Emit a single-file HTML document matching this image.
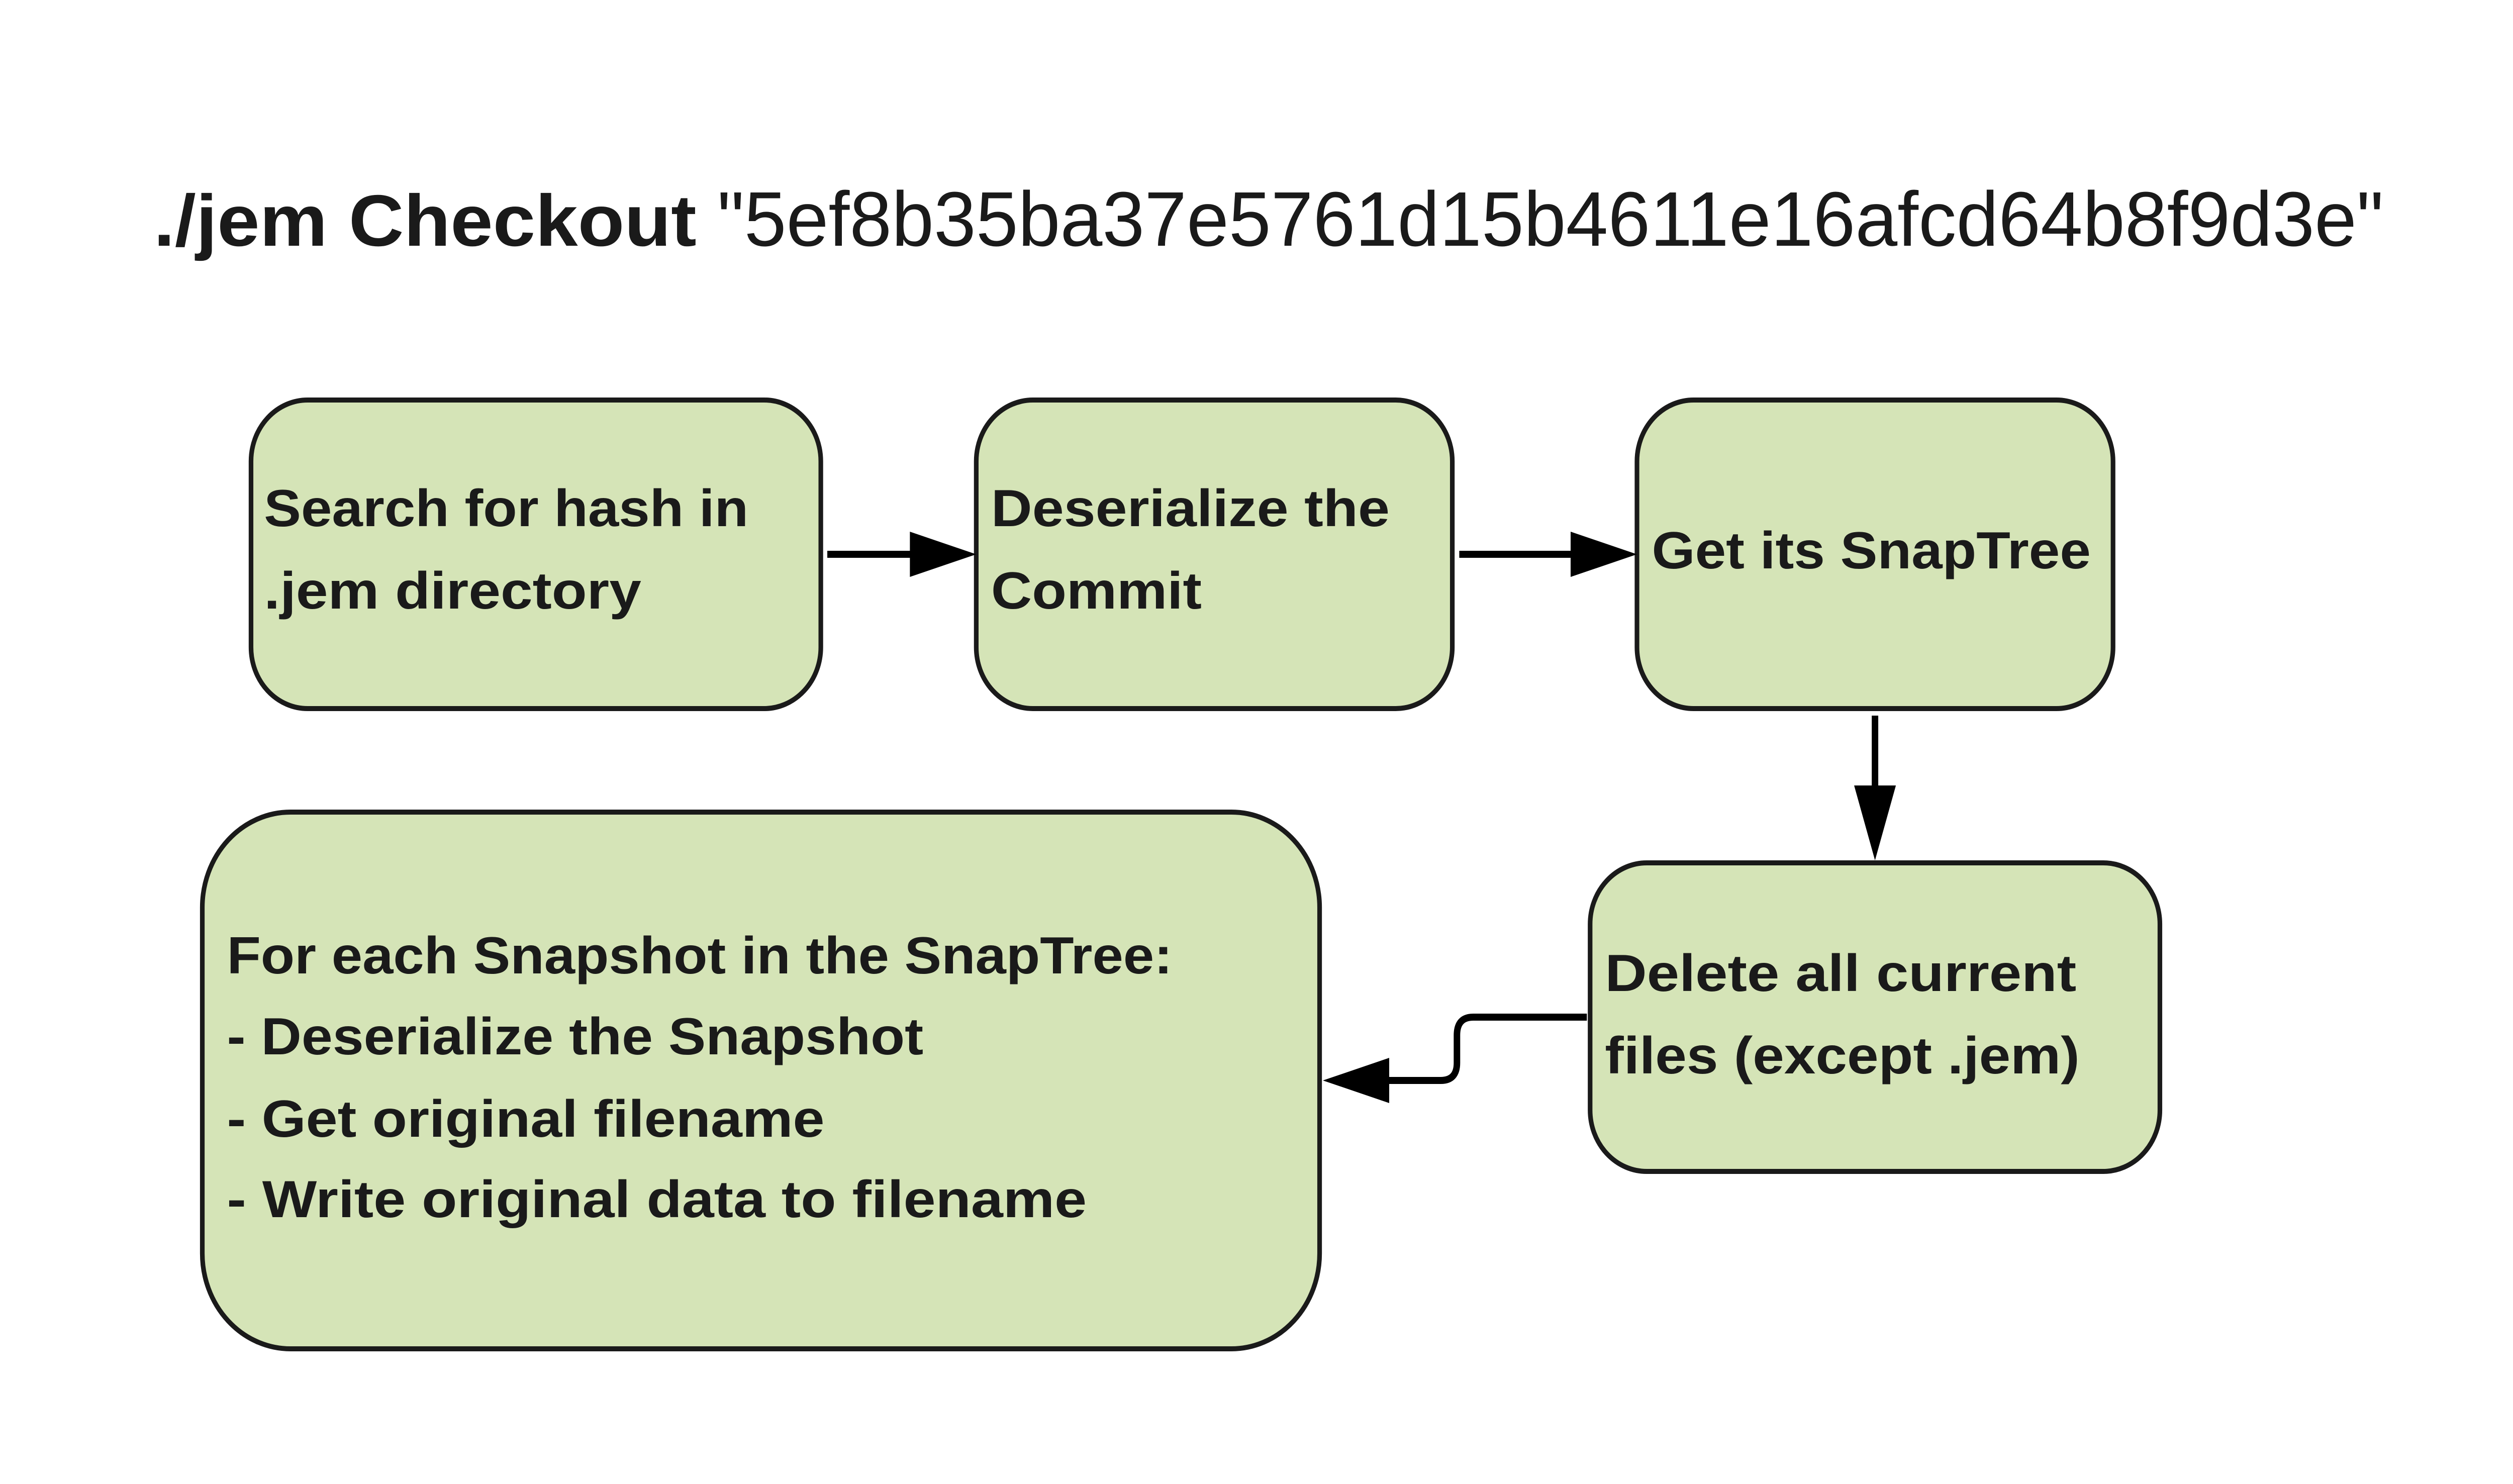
<!DOCTYPE html>
<html><head><meta charset="utf-8"><style>
html,body{margin:0;padding:0;background:#fff;overflow:hidden;}
svg{display:block;width:100vw;height:100vh;}
text{font-family:"Liberation Sans",sans-serif;fill:#1a1a1a;}
.b{font-weight:bold;font-size:104px;}
</style></head><body>
<svg viewBox="0 0 5416 2953" preserveAspectRatio="none" xmlns="http://www.w3.org/2000/svg">
<rect width="5416" height="2953" fill="#fff"/>
<text x="331" y="489" font-size="145" font-weight="bold" textLength="1170" lengthAdjust="spacingAndGlyphs">./jem Checkout</text>
<text x="1546" y="489" font-size="154" textLength="3591" lengthAdjust="spacingAndGlyphs">"5ef8b35ba37e5761d15b4611e16afcd64b8f9d3e"</text>
<g fill="#d5e4b7" stroke="#1a1a1a" stroke-width="10">
<rect x="541" y="796" width="1228" height="614" rx="122"/>
<rect x="2104" y="796" width="1026" height="614" rx="122"/>
<rect x="3528" y="796" width="1026" height="614" rx="122"/>
<rect x="3427" y="1717" width="1228" height="614" rx="122"/>
<rect x="436" y="1616" width="2408" height="1068" rx="190"/>
</g>
<text class="b" x="569" y="1047" textLength="1044" lengthAdjust="spacingAndGlyphs">Search for hash in</text>
<text class="b" x="569" y="1211" textLength="813" lengthAdjust="spacingAndGlyphs">.jem directory</text>
<text class="b" x="2136" y="1047" textLength="859" lengthAdjust="spacingAndGlyphs">Deserialize the</text>
<text class="b" x="2136" y="1211" textLength="454" lengthAdjust="spacingAndGlyphs">Commit</text>
<text class="b" x="3560" y="1131" textLength="946" lengthAdjust="spacingAndGlyphs">Get its SnapTree</text>
<text class="b" x="3459" y="1972" textLength="1016" lengthAdjust="spacingAndGlyphs">Delete all current</text>
<text class="b" x="3459" y="2136" textLength="1023" lengthAdjust="spacingAndGlyphs">files (except .jem)</text>
<text class="b" x="489" y="1937" textLength="2038" lengthAdjust="spacingAndGlyphs">For each Snapshot in the SnapTree:</text>
<text class="b" x="489" y="2098" textLength="1501" lengthAdjust="spacingAndGlyphs">- Deserialize the Snapshot</text>
<text class="b" x="489" y="2262" textLength="1288" lengthAdjust="spacingAndGlyphs">- Get original filename</text>
<text class="b" x="489" y="2422" textLength="1853" lengthAdjust="spacingAndGlyphs">- Write original data to filename</text>
<g stroke="#000" stroke-width="14" fill="none">
<line x1="1783" y1="1103" x2="1970" y2="1103"/>
<line x1="3145" y1="1103" x2="3395" y2="1103"/>
<line x1="4041" y1="1424" x2="4041" y2="1570"/>
<path d="M3420 2024 H3175 Q3140 2024 3140 2060 V2115 Q3140 2150 3105 2150 H2990"/>
</g>
<g fill="#000">
<polygon points="1961,1058 2104,1103 1961,1148"/>
<polygon points="3385,1058 3528,1103 3385,1148"/>
<polygon points="3996,1563 4041,1712 4086,1563"/>
<polygon points="2994,2105 2851,2150 2994,2195"/>
</g>
</svg>
</body></html>
